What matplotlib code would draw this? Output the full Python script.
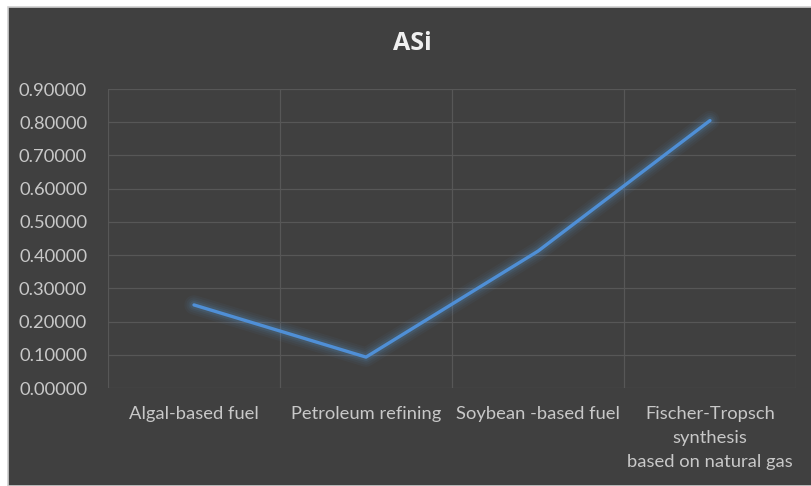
import matplotlib
matplotlib.use("Agg")
import matplotlib.pyplot as plt
from matplotlib.patches import Rectangle
import numpy as np

categories = ["Algal-based fuel", "Petroleum refining", "Soybean -based fuel",
              "Fischer-Tropsch\nsynthesis\nbased on natural gas"]
values = [0.25, 0.093, 0.412, 0.805]
yticks = [0.0, 0.1, 0.2, 0.3, 0.4, 0.5, 0.6, 0.7, 0.8, 0.9]

W, H = 812, 486
fig = plt.figure(figsize=(W / 100, H / 100), dpi=100, facecolor="white")
bg = "#404040"
fig.patches.append(Rectangle((8 / W, 0), 1 - 8 / W, 1 - 7 / H, transform=fig.transFigure,
                             facecolor=bg, edgecolor="#d0d0d0", linewidth=1.2, zorder=-10))

left, right, top, bottom = 108, 796, 89, 388
ax = fig.add_axes([left / W, 1 - bottom / H, (right - left) / W, (bottom - top) / H])
ax.set_zorder(5)
ax.set_facecolor(bg)
ax.patch.set_alpha(0)

fam = ["Lato", "DejaVu Sans"]
tc = "#c8c8c8"
x = np.arange(len(categories))
# glow
for lw, a in [(14, 0.05), (11, 0.06), (8, 0.08), (5.5, 0.12)]:
    ax.plot(x, values, color="#5B9BD5", linewidth=lw, alpha=a, solid_capstyle="round",
            solid_joinstyle="round", zorder=2)
ax.plot(x, values, color="#4F8FD6", linewidth=2.4, solid_capstyle="round",
        solid_joinstyle="round", zorder=3)

ax.set_xlim(-0.5, len(categories) - 0.5)
ax.set_ylim(0, 0.9)
ax.set_yticks(yticks)
ax.set_yticklabels([f"{v:.5f}" for v in yticks], family=fam, fontsize=13.2, color=tc)
ax.set_xticks(x)
ax.set_xticklabels(categories, family=fam, fontsize=13.2, color=tc, linespacing=1.62)
ax.set_xticks(np.arange(-0.5, len(categories), 1.0), minor=True)
ax.grid(True, axis="y", which="major", color="#575757", linewidth=0.9, zorder=1)
ax.grid(True, axis="x", which="minor", color="#575757", linewidth=0.9, zorder=1)
ax.tick_params(axis="both", which="both", length=0)
ax.tick_params(axis="y", pad=15)
ax.tick_params(axis="x", pad=13)
for s in ax.spines.values():
    s.set_visible(False)

fig.text(412 / W, 1 - 44 / H, "ASi", ha="center", va="center",
         fontsize=18, fontweight="bold", color="#f0f0f0", family=["Open Sans", "DejaVu Sans"])

fig.savefig("out.png", dpi=100, facecolor="white")
